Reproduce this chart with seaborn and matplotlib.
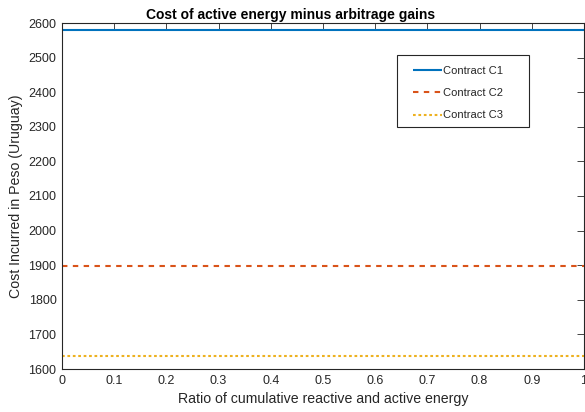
import numpy as np
import pandas as pd
import matplotlib
matplotlib.use("Agg")
import matplotlib.pyplot as plt
from matplotlib.patches import Rectangle
import seaborn as sns

ratio = [0.0, 0.1, 0.2, 0.3, 0.4, 0.5, 0.6, 0.7, 0.8, 0.9, 1.0]
cost_c1 = [2580] * 11
cost_c2 = [1899] * 11
cost_c3 = [1638] * 11
contracts = ["Contract C1", "Contract C2", "Contract C3"]
colors = ["#0072BD", "#D95319", "#EDB120"]
xtick_labels = ["0", "0.1", "0.2", "0.3", "0.4", "0.5", "0.6", "0.7", "0.8", "0.9", "1"]

df = pd.DataFrame({
    "ratio": ratio * 3,
    "cost": cost_c1 + cost_c2 + cost_c3,
    "contract": [contracts[0]] * 11 + [contracts[1]] * 11 + [contracts[2]] * 11,
})

sns.set_style("white")
plt.rcParams["font.family"] = ["Liberation Sans", "DejaVu Sans"]

W, H = 585, 412
fig = plt.figure(figsize=(W / 100, H / 100), dpi=100)
ax = fig.add_axes([62 / W, 1 - 369 / H, 522 / W, 346 / H])

sns.lineplot(data=df, x="ratio", y="cost", hue="contract", style="contract",
             palette=colors, dashes=[(1, 0), (2.6, 2.6), (1.3, 1.3)], linewidth=1.5,
             ax=ax, legend=True)

ax.set_xlim(0, 1)
ax.set_ylim(1600, 2600)
ax.set_xticks(ratio)
ax.set_xticklabels(xtick_labels)
ax.set_yticks(np.arange(1600, 2601, 100))
ax.tick_params(direction="in", length=5, width=0.6, labelsize=9, colors="#262626",
               top=True, right=True, pad=4)
ax.tick_params(axis="x", pad=4.5)
for s in ax.spines.values():
    s.set_color("#262626")
    s.set_linewidth(0.8)
ax.set_xlabel("Ratio of cumulative reactive and active energy", fontsize=10.2,
              color="#262626", labelpad=3.5)
ax.set_ylabel("Cost Incurred in Peso (Uruguay)", fontsize=10.2, color="#262626", labelpad=4)
fig.text(291 / W, 1 - 18.5 / H, "Cost of active energy minus arbitrage gains",
         fontsize=10, fontweight="bold", ha="center", va="baseline", color="black")

leg = ax.legend(loc="upper left",
                bbox_to_anchor=((413 - 62) / 522, (369 - 65.5) / 346),
                fontsize=8, frameon=False, handlelength=2.6,
                handletextpad=0.1, borderpad=0.0, borderaxespad=0.0,
                labelspacing=1.12)
leg.set_title(None)
leg.set_zorder(6)
ax.add_patch(Rectangle((397 / W, 1 - 127 / H), 132 / W, 72 / H,
                       transform=fig.transFigure, facecolor="white",
                       edgecolor="#262626", linewidth=0.8, zorder=5, clip_on=False))

fig.savefig("out.png", dpi=100)
